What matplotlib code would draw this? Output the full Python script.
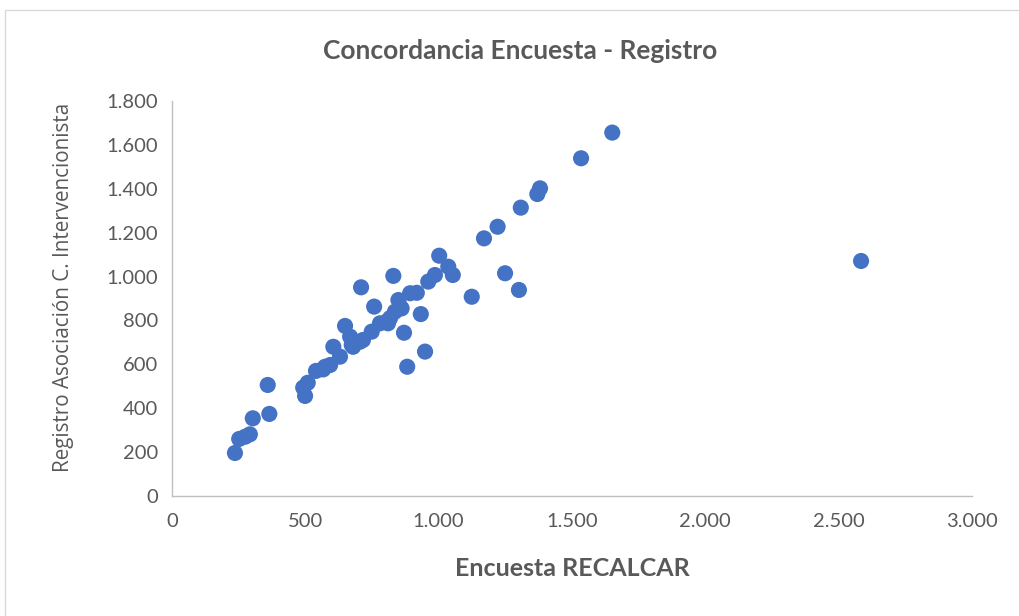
import matplotlib
matplotlib.use("Agg")
import matplotlib.pyplot as plt
from matplotlib.ticker import FuncFormatter, MultipleLocator
from matplotlib.patches import Rectangle

encuesta = [236, 252, 274, 292, 303, 359, 365, 492, 499, 509, 540, 567, 574, 593,
            605, 630, 649, 668, 679, 674, 705, 716, 709, 749, 758, 780, 810, 818,
            805, 830, 836, 849, 855, 861, 870, 882, 893, 918, 933, 949, 961, 986,
            1002, 1036, 1053, 1124, 1170, 1221, 1249, 1301, 1308, 1370, 1380,
            1534, 1651, 2584]
registro = [196, 260, 270, 281, 354, 506, 374, 494, 456, 516, 570, 577, 589, 597,
            680, 635, 775, 726, 680, 688, 703, 711, 951, 749, 863, 787, 787, 811,
            795, 1003, 840, 893, 863, 855, 744, 589, 924, 926, 829, 658, 977, 1007,
            1095, 1045, 1007, 908, 1174, 1227, 1015, 939, 1314, 1376, 1402,
            1539, 1656, 1071]

title = "Concordancia Encuesta - Registro"
xlabel = "Encuesta RECALCAR"
ylabel = "Registro Asociación C. Intervencionista"

gray = "#595959"
fam = ["Lato", "DejaVu Sans"]

fig = plt.figure(figsize=(10.19, 6.16), dpi=100)
fig.patches.append(Rectangle((5/1019, -0.1), 1.2, 1.1 - 10/616, transform=fig.transFigure,
                             fill=False, edgecolor="#D9D9D9", linewidth=1.0))
ax = fig.add_axes([172/1019, 1 - 496/616, 800/1019, 395/616])

ax.scatter(encuesta, registro, s=135, color="#4472C4", edgecolors="none", zorder=3)

ax.set_xlim(0, 3000)
ax.set_ylim(0, 1800)
ax.xaxis.set_major_locator(MultipleLocator(500))
ax.yaxis.set_major_locator(MultipleLocator(200))
fmt = FuncFormatter(lambda v, p: f"{int(v):,}".replace(",", "."))
ax.xaxis.set_major_formatter(fmt)
ax.yaxis.set_major_formatter(fmt)

for s in ["top", "right"]:
    ax.spines[s].set_visible(False)
for s in ["left", "bottom"]:
    ax.spines[s].set_color("#BFBFBF")
    ax.spines[s].set_linewidth(1.0)
ax.tick_params(length=0, labelcolor=gray, labelsize=14.5)
ax.tick_params(axis="x", pad=12)
ax.tick_params(axis="y", pad=10)
for lab in ax.get_xticklabels() + ax.get_yticklabels():
    lab.set_family(fam)

ax.set_xlabel(xlabel, fontsize=18, fontweight="bold", color=gray, family=fam, labelpad=20)
ax.set_ylabel(ylabel, fontsize=14.9, color=gray, family=["Open Sans", "DejaVu Sans"])
ax.yaxis.set_label_coords(-0.122, 0.527)
fig.text(520/1019, 1 - 51/616, title, ha="center", va="center", fontsize=19,
         fontweight="bold", color=gray, family=fam)

fig.savefig("out.png", dpi=100)
